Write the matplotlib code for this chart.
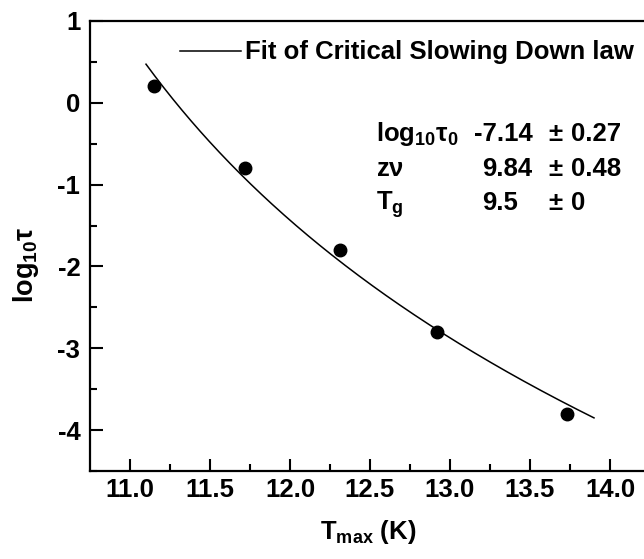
import numpy as np
import matplotlib
matplotlib.use("Agg")
import matplotlib.pyplot as plt
from matplotlib.lines import Line2D

# Measured relaxation times vs. peak temperature
t_max = [11.15, 11.72, 12.31, 12.92, 13.73]
log_tau = [0.2, -0.8, -1.8, -2.8, -3.8]

# Critical slowing down fit parameters (value, error)
log_tau0 = (-7.14, 0.27)
z_nu = (9.84, 0.48)
t_g = (9.5, 0)
fit_range = (11.1, 13.9)

plt.rcParams['font.family'] = ['Liberation Sans', 'DejaVu Sans']
plt.rcParams['font.weight'] = 'bold'
plt.rcParams['axes.unicode_minus'] = False
plt.rcParams['mathtext.fontset'] = 'custom'
plt.rcParams['mathtext.rm'] = 'Liberation Sans:bold'
plt.rcParams['mathtext.it'] = 'Liberation Sans:bold'
plt.rcParams['mathtext.bf'] = 'Liberation Sans:bold'

FS = 18.5

fig = plt.figure(figsize=(6.44, 5.59), dpi=100)
# right spine sits just past the figure edge
ax = fig.add_axes([90 / 644, 88 / 559, 560 / 644, 450 / 559])

ax.plot(t_max, log_tau, 'o', color='black', markersize=9, zorder=3)

T = np.linspace(fit_range[0], fit_range[1], 300)
fit = log_tau0[0] - z_nu[0] * np.log10((T - t_g[0]) / t_g[0])
ax.plot(T, fit, color='black', linewidth=1.1)

ax.set_xlim(10.75, 14.25)
ax.set_ylim(-4.5, 1)
ax.set_xticks([11.0, 11.5, 12.0, 12.5, 13.0, 13.5, 14.0])
ax.set_xticklabels(['11.0', '11.5', '12.0', '12.5', '13.0', '13.5', '14.0'])
ax.set_xticks(np.arange(11.25, 14.0, 0.5), minor=True)
ax.set_yticks([-4, -3, -2, -1, 0, 1])
ax.set_yticks(np.arange(-4.5, 1.0, 0.5), minor=True)

for s in ax.spines.values():
    s.set_linewidth(1.6)
ax.tick_params(which='major', direction='in', length=9, width=1.5, labelsize=FS)
ax.tick_params(which='minor', direction='in', length=5, width=1.5)
ax.tick_params(axis='x', which='major', pad=5)
ax.tick_params(axis='y', which='major', pad=7)
for lab in ax.get_xticklabels() + ax.get_yticklabels():
    lab.set_fontweight('bold')

ax.set_xlabel(r'$\mathregular{T_{max}}$ (K)', fontsize=FS, fontweight='bold')
ax.set_ylabel(r'$\mathregular{log_{10}\tau}$', fontsize=19.5, fontweight='bold')
ax.xaxis.set_label_coords(0.496, -0.105)
ax.yaxis.set_label_coords(-0.088, 0.458)
ax.xaxis.label.set_va('top')

# legend entry drawn by hand
ax.add_line(Line2D([0.1607, 0.2696], [0.9333, 0.9333], transform=ax.transAxes,
                   color='black', linewidth=1.1))
ax.text(0.2768, 0.9156, 'Fit of Critical Slowing Down law', transform=ax.transAxes,
        fontsize=FS, fontweight='bold', va='baseline', ha='left')

# parameter table
rows = [
    (r'$\mathregular{log_{10}\tau_0}$', log_tau0, 0.6857, 0.7333),
    (r'z$\mathregular{\nu}$', z_nu, 0.70, 0.6556),
    (r'$\mathregular{T_g}$', t_g, 0.70, 0.5800),
]
for name, (val, err), xv, yb in rows:
    ax.text(0.5107, yb, name, transform=ax.transAxes, fontsize=FS,
            fontweight='bold', va='baseline')
    ax.text(xv, yb, f'{val:g}', transform=ax.transAxes, fontsize=FS,
            fontweight='bold', va='baseline')
    ax.text(0.8179, yb, '±', transform=ax.transAxes, fontsize=FS,
            fontweight='bold', va='baseline')
    ax.text(0.8589, yb, f'{err:g}', transform=ax.transAxes, fontsize=FS,
            fontweight='bold', va='baseline')

fig.savefig('out.png', dpi=100)
